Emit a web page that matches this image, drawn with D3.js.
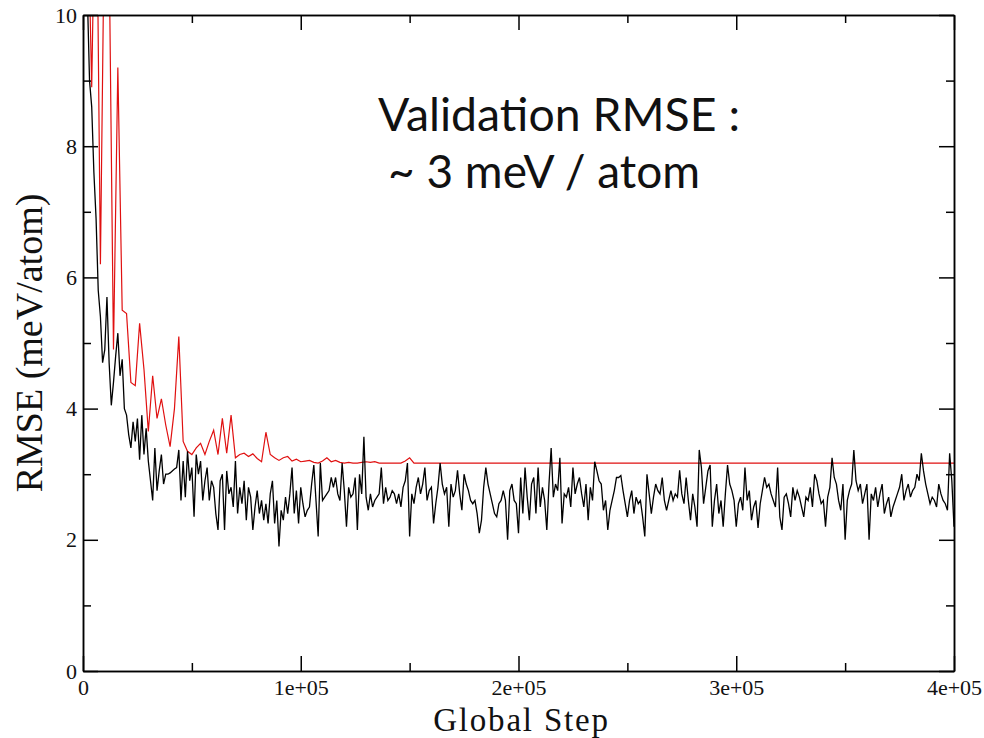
<!DOCTYPE html>
<html><head><meta charset="utf-8">
<script src="https://cdn.jsdelivr.net/npm/d3@7"></script>
<style>body{margin:0;background:#fff;} svg{display:block}</style>
</head><body><svg id="c" width="984" height="738"></svg>
<script>
// ---- data ----
const trainStep = 1000; // global steps between training points
const trainRMSE = [
12,11,10.3,9.0,8.6,7.6,6.9,5.8,5.4,4.7,
4.9,5.7,4.7,4.05,4.4,4.8,5.15,4.5,4.75,4.0,
3.9,3.6,3.4,3.8,3.5,3.85,3.22,3.9,3.3,3.7,
3.2,2.9,2.6,3.4,2.75,3.05,3.3,2.85,3.0,3.0,
3.02,3.05,3.08,3.1,3.37,2.6,3.2,2.65,3.35,2.9,
3.1,2.35,3.3,3.0,3.2,2.6,2.9,3.1,2.6,2.9,
2.8,2.4,2.15,2.9,3.0,2.15,3.05,2.7,2.8,2.5,
3.2,2.4,2.8,2.55,2.9,2.3,2.8,2.65,2.15,2.5,
2.75,2.4,2.6,2.3,2.55,2.25,2.7,2.9,2.25,2.6,
1.9,2.45,2.3,2.65,2.4,2.7,3.1,2.4,2.75,2.25,
2.8,2.55,2.35,2.45,2.5,2.85,3.14,2.6,2.05,3.17,
2.6,2.65,2.7,2.75,2.95,2.8,2.95,2.7,2.6,3.17,
2.75,2.2,2.8,2.65,2.7,2.95,2.15,3.0,2.7,3.57,
2.65,2.45,2.7,2.5,2.6,2.65,2.7,3.1,2.55,2.8,
2.6,2.65,2.75,2.7,2.55,2.7,2.5,2.8,2.9,3.17,
2.05,2.7,2.55,2.8,2.95,2.7,2.85,3.1,2.6,2.75,
2.8,2.25,2.55,2.8,3.17,2.85,2.7,2.8,2.2,2.85,
2.65,2.75,3.06,2.7,2.45,3.0,2.85,2.75,2.6,2.55,
2.6,2.4,2.1,2.3,2.8,3.1,2.85,2.7,2.55,2.4,
2.35,2.55,2.6,2.75,2.6,2.0,2.75,2.85,2.6,2.55,
2.1,2.95,2.4,3.1,2.65,2.3,2.85,2.95,2.4,3.1,
2.5,2.8,2.6,2.15,2.85,3.4,2.65,2.85,2.75,3.25,
2.25,2.7,2.65,2.8,2.5,3.1,2.7,2.85,2.95,2.7,
2.5,2.85,2.3,2.8,2.6,3.19,3.05,2.9,2.85,2.45,
2.6,2.15,2.45,2.6,2.75,2.95,2.95,2.98,2.75,2.55,
2.35,2.6,2.75,2.4,2.65,2.55,2.6,2.35,2.05,3.0,
2.7,2.4,2.65,2.85,2.75,2.7,2.95,2.6,2.45,2.6,
2.75,2.6,2.7,2.65,3.06,2.7,2.55,2.95,2.6,2.3,
2.7,2.5,2.2,3.37,3.1,2.55,2.8,3.05,3.14,2.2,
2.6,2.85,2.4,2.6,2.2,2.7,3.14,2.85,2.75,2.6,
2.2,2.55,2.65,2.45,3.1,2.6,2.75,2.3,2.5,2.6,
2.18,2.55,2.75,2.95,2.8,2.85,2.7,2.6,2.5,3.1,
2.35,2.15,2.65,2.7,2.55,2.35,2.8,2.6,2.75,2.65,
2.5,2.35,2.65,2.6,2.8,2.5,3.0,2.9,2.7,2.55,
2.6,2.2,2.65,2.8,3.25,2.95,2.85,2.6,2.45,2.85,
2.0,2.6,2.75,2.85,3.37,2.9,2.75,2.85,2.55,2.7,
2.85,2.0,2.7,2.6,2.8,2.5,2.7,2.85,2.4,2.55,
2.65,2.35,2.5,2.6,2.7,2.8,3.0,2.6,2.75,2.85,
2.65,2.75,2.8,3.0,2.9,3.32,3.05,2.85,2.7,2.55,
2.65,2.6,2.5,2.85,2.7,2.6,2.55,2.45,3.32,2.9,
2.2
];
const valStep = 2000; // global steps between validation points
const valRMSE = [
14,12,8.9,13,6.2,12,11,4.9,9.2,5.5,
5.45,4.4,4.35,5.3,4.6,3.65,4.5,3.85,4.15,3.75,
3.42,4.0,5.1,3.5,3.35,3.3,3.4,3.47,3.3,3.5,
3.67,3.3,3.85,3.32,3.9,3.25,3.3,3.32,3.27,3.31,
3.24,3.19,3.64,3.3,3.25,3.21,3.25,3.27,3.2,3.23,
3.19,3.2,3.21,3.18,3.17,3.2,3.25,3.19,3.21,3.18,
3.17,3.18,3.17,3.17,3.18,3.19,3.18,3.19,3.17,3.17,
3.17,3.17,3.17,3.17,3.2,3.25,3.17
];
const valLastStep = 400000;
const valLastRMSE = 3.17;
const xTicks = [0,100000,200000,300000,400000];
const xTickLabels = ["0","1e+05","2e+05","3e+05","4e+05"];
const xMinorTicks = [50000,150000,250000,350000];
const yTicks = [0,2,4,6,8,10];
const yTickLabels = ["0","2","4","6","8","10"];
const yMinorTicks = [1,3,5,7,9];
const xTitle = "Global Step";
const yTitle = "RMSE (meV/atom)";
const noteLines = ["Validation RMSE :", "~ 3 meV / atom"];

// ---- chart ----
const L = 83, R = 954, T = 15, B = 671;
const svg = d3.select("#c");
const x = d3.scaleLinear().domain([0,400000]).range([L,R]);
const y = d3.scaleLinear().domain([0,10]).range([B,T]);
const serif = "'Liberation Serif','Times New Roman',Times,serif";

svg.append("defs").append("clipPath").attr("id","clip")
  .append("rect").attr("x",L).attr("y",T).attr("width",R-L).attr("height",B-T);

const trainData = trainRMSE.map((v,i)=>[i*trainStep, v]);
const valData = valRMSE.map((v,i)=>[i*valStep, v]).concat([[valLastStep, valLastRMSE]]);
const line = d3.line().x(d=>x(d[0])).y(d=>y(d[1]));

const plot = svg.append("g").attr("clip-path","url(#clip)");
plot.append("path").datum(valData).attr("d",line)
  .attr("fill","none").attr("stroke","#e01010").attr("stroke-width",1.2);
plot.append("path").datum(trainData).attr("d",line)
  .attr("fill","none").attr("stroke","#000").attr("stroke-width",1.3);

function styleAxis(g){
  g.attr("font-size",null).attr("font-family",null);
  g.selectAll("path.domain").attr("stroke","#000").attr("stroke-width",1.5);
  g.selectAll(".tick line").attr("stroke","#000").attr("stroke-width",1.5);
  g.selectAll(".tick text").style("font-family",serif).style("font-size","22px").attr("fill","#111");
}
// bottom
svg.append("g").attr("transform",`translate(0,${B})`)
  .call(d3.axisBottom(x).tickValues(xTicks).tickFormat((d,i)=>xTickLabels[i]).tickSizeInner(-15).tickSizeOuter(0).tickPadding(8))
  .call(styleAxis);
svg.append("g").attr("transform",`translate(0,${B})`)
  .call(d3.axisBottom(x).tickValues(xMinorTicks).tickFormat("").tickSizeInner(-8).tickSizeOuter(0))
  .call(styleAxis);
// top
svg.append("g").attr("transform",`translate(0,${T})`)
  .call(d3.axisTop(x).tickValues(xTicks).tickFormat("").tickSizeInner(-15).tickSizeOuter(0))
  .call(styleAxis);
svg.append("g").attr("transform",`translate(0,${T})`)
  .call(d3.axisTop(x).tickValues(xMinorTicks).tickFormat("").tickSizeInner(-8).tickSizeOuter(0))
  .call(styleAxis);
// left
svg.append("g").attr("transform",`translate(${L},0)`)
  .call(d3.axisLeft(y).tickValues(yTicks).tickFormat((d,i)=>yTickLabels[i]).tickSizeInner(-15).tickSizeOuter(0).tickPadding(6))
  .call(styleAxis);
svg.append("g").attr("transform",`translate(${L},0)`)
  .call(d3.axisLeft(y).tickValues(yMinorTicks).tickFormat("").tickSizeInner(-8).tickSizeOuter(0))
  .call(styleAxis);
// right
svg.append("g").attr("transform",`translate(${R},0)`)
  .call(d3.axisRight(y).tickValues(yTicks).tickFormat("").tickSizeInner(-15).tickSizeOuter(0))
  .call(styleAxis);
svg.append("g").attr("transform",`translate(${R},0)`)
  .call(d3.axisRight(y).tickValues(yMinorTicks).tickFormat("").tickSizeInner(-8).tickSizeOuter(0))
  .call(styleAxis);

// titles
svg.append("text").attr("x",(L+R)/2+3).attr("y",731).attr("text-anchor","middle")
  .style("font-family",serif).style("font-size","33px").style("letter-spacing","1.8px").attr("fill","#111").text(xTitle);
svg.append("text").attr("transform",`translate(42,${(T+B)/2}) rotate(-90)`).attr("text-anchor","middle")
  .style("font-family",serif).style("font-size","38px").attr("fill","#111").text(yTitle);

// annotation
const noteFont = "Lato,'Open Sans',sans-serif";
svg.append("text").attr("x",378).attr("y",131).style("font-family",noteFont).style("font-size","46px").style("font-weight",400)
  .attr("textLength",362).attr("lengthAdjust","spacingAndGlyphs").attr("fill","#111").text(noteLines[0]);
svg.append("text").attr("x",388).attr("y",188).style("font-family",noteFont).style("font-size","46px").style("font-weight",400)
  .attr("textLength",312).attr("lengthAdjust","spacingAndGlyphs").attr("fill","#111").text(noteLines[1]);
</script></body></html>
